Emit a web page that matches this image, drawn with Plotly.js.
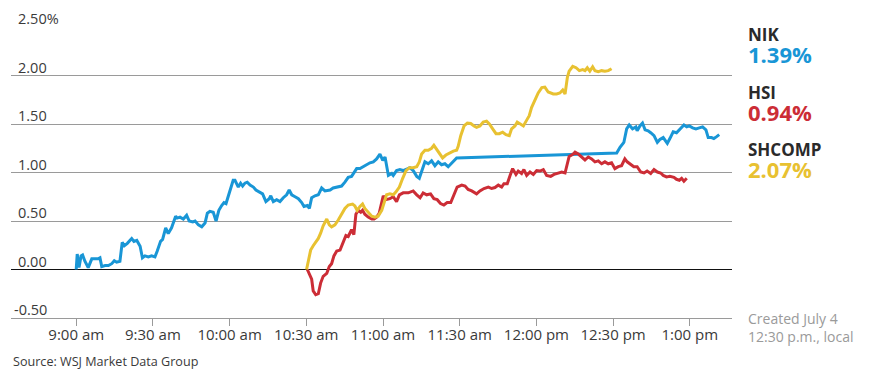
<!DOCTYPE html>
<html>
<head>
<meta charset="utf-8">
<script src="https://cdn.plot.ly/plotly-3.0.1.min.js"></script>
<style>
  html, body { margin: 0; padding: 0; background: #fff; }
  #chart { width: 870px; height: 383px; }
</style>
</head>
<body>
<div id="chart"></div>
<script>
// Minutes after 9:00 am (Tokyo local time) and percent change
const nikMin = [0,0.4,1.1,1.9,2.5,3.4,4.7,6.1,7.4,8.6,9.3,10.0,11.3,12.6,13.9,14.9,15.8,17.1,18.0,18.8,20.0,21.7,22.6,23.7,25.0,25.9,26.9,28.2,29.5,30.8,31.7,33.0,33.8,35.0,36.0,37.3,38.9,39.5,40.6,41.9,43.2,44.2,45.6,46.5,47.8,49.1,50.4,51.3,52.3,53.6,54.7,55.8,56.9,57.8,58.6,59.5,60.4,61.4,62.1,63.4,64.3,65.1,66.0,66.9,68.0,69.3,70.3,71.6,72.9,74.2,75.5,76.1,77.1,78.4,79.7,81.0,82.3,83.3,84.3,85.6,86.9,88.2,89.1,90.4,91.2,92.1,93.4,94.7,96.0,97.3,99.3,100.5,101.9,103.8,105.1,106.4,107.7,109.0,109.7,111.0,112.3,113.6,114.9,116.2,117.5,118.8,119.9,120.8,122.1,123.4,124.0,125.3,126.6,127.9,129.3,130.5,131.8,133.2,134.2,135.1,136.4,137.7,139.0,140.3,141.6,142.9,144.2,145.5,146.9,147.8,148.8,211.4,212.7,214.2,215.3,216.3,217.6,218.9,219.4,220.5,221.5,222.5,223.7,224.7,226.0,227.3,228.3,229.6,231.2,232.2,233.5,234.8,236.1,237.7,238.8,239.8,241.1,242.4,243.7,245.0,246.3,247.2,248.5,249.4,250.5,251.5];
const nikVal = [0,0.16,0.02,0.14,0.15,0.085,0.02,0.11,0.11,0.11,0.12,0.03,0.04,0.04,0.06,0.09,0.075,0.085,0.28,0.245,0.27,0.32,0.29,0.30,0.24,0.12,0.14,0.13,0.14,0.13,0.19,0.29,0.31,0.43,0.37,0.43,0.55,0.53,0.54,0.52,0.56,0.50,0.49,0.50,0.46,0.44,0.48,0.58,0.60,0.59,0.50,0.61,0.66,0.69,0.68,0.75,0.83,0.92,0.92,0.85,0.89,0.86,0.89,0.90,0.87,0.85,0.82,0.80,0.78,0.70,0.73,0.76,0.70,0.72,0.70,0.74,0.77,0.82,0.77,0.75,0.73,0.69,0.65,0.66,0.63,0.74,0.76,0.77,0.84,0.81,0.82,0.84,0.85,0.86,0.90,0.95,0.96,1.005,1.04,1.04,1.06,1.08,1.10,1.11,1.14,1.19,1.125,1.16,0.97,0.99,0.97,1.02,1.03,1.02,1.04,1.05,1.02,0.96,0.94,1.02,1.11,1.09,1.12,1.07,1.11,1.08,1.09,1.06,1.10,1.125,1.15,1.20,1.26,1.31,1.45,1.49,1.45,1.47,1.43,1.48,1.51,1.44,1.43,1.41,1.38,1.31,1.34,1.36,1.30,1.35,1.42,1.41,1.45,1.49,1.47,1.48,1.46,1.45,1.46,1.47,1.44,1.36,1.36,1.35,1.37,1.39];

const hsiMin = [90.4,91.4,92.1,92.7,93.7,94.7,95.6,96.6,98.0,99.0,99.9,100.8,101.9,103.2,104.5,105.5,106.4,107.7,108.6,109.4,110.3,111.3,112.0,112.9,114.2,115.6,116.5,117.5,118.5,119.5,120.1,121.2,122.7,124.0,125.3,126.4,127.9,129.9,131.8,133.2,134.5,135.7,137.1,138.6,139.9,141.2,142.5,143.8,145.1,146.5,147.8,149.0,150.8,152.1,153.3,154.7,156.6,157.9,159.5,161.2,162.5,163.8,165.1,166.4,167.3,168.6,169.7,170.7,172.0,172.9,174.2,175.1,176.2,177.5,178.8,180.1,181.4,182.7,184.0,185.6,186.9,188.5,189.9,191.2,192.1,192.8,194.4,195.1,196.4,197.7,199.0,200.3,201.6,202.9,204.2,205.5,206.8,208.1,209.4,210.7,212.0,213.3,214.6,215.5,216.6,218.1,219.4,220.8,222.1,223.3,224.7,226.0,227.3,228.6,229.6,230.9,232.2,233.8,234.8,235.9,236.8,237.7,238.8];
const hsiVal = [0,-0.05,-0.10,-0.22,-0.26,-0.25,-0.14,-0.07,-0.04,0.03,0.06,0.14,0.19,0.20,0.29,0.35,0.34,0.41,0.36,0.57,0.61,0.59,0.61,0.57,0.54,0.52,0.52,0.54,0.58,0.68,0.76,0.72,0.73,0.75,0.70,0.77,0.79,0.79,0.81,0.77,0.74,0.79,0.77,0.78,0.73,0.72,0.68,0.665,0.69,0.69,0.78,0.85,0.87,0.86,0.825,0.81,0.78,0.81,0.835,0.85,0.835,0.845,0.87,0.85,0.885,0.885,0.97,1.04,0.98,1.015,0.99,1.03,0.97,1.005,0.98,1.02,1.015,1.03,0.97,0.96,0.98,0.995,1.005,0.995,1.09,1.165,1.19,1.21,1.19,1.16,1.13,1.16,1.14,1.11,1.12,1.09,1.11,1.09,1.10,1.04,1.06,1.07,1.14,1.11,1.09,1.06,1.06,1.005,0.995,1.015,0.99,1.03,1.005,0.995,0.97,0.955,0.96,0.95,0.93,0.92,0.94,0.91,0.94];

const shMin = [90.1,91.2,91.7,92.7,93.8,94.7,95.6,96.6,98.0,99.0,99.9,101.2,102.5,103.8,105.1,106.4,108.1,109.0,109.9,111.0,112.0,112.9,114.2,115.6,116.9,118.1,119.5,120.4,121.4,122.7,124.0,125.1,126.4,127.7,129.0,130.3,131.8,133.2,134.2,135.1,136.4,137.7,139.0,139.9,141.0,142.3,143.3,144.6,145.9,147.5,148.8,149.4,150.4,151.7,153.0,154.3,155.6,156.6,157.9,159.2,160.5,161.6,162.9,164.2,165.5,166.8,168.1,169.4,170.3,171.6,172.5,173.6,174.9,176.2,177.2,178.1,179.4,180.7,182.1,183.3,184.6,186.6,187.9,189.2,190.3,191.2,192.1,192.8,194.2,195.5,196.8,198.1,199.0,199.9,200.9,202.0,202.9,204.2,205.5,206.8,208.1,209.4];
const shVal = [0,0.12,0.20,0.245,0.29,0.32,0.375,0.45,0.52,0.46,0.44,0.46,0.51,0.57,0.63,0.665,0.675,0.655,0.61,0.65,0.675,0.63,0.59,0.55,0.54,0.55,0.61,0.70,0.77,0.78,0.77,0.80,0.85,0.94,1.02,1.05,1.05,1.06,1.11,1.19,1.23,1.23,1.25,1.28,1.24,1.19,1.15,1.18,1.20,1.22,1.23,1.27,1.38,1.48,1.51,1.505,1.48,1.465,1.48,1.52,1.53,1.50,1.45,1.40,1.40,1.415,1.39,1.38,1.45,1.48,1.52,1.50,1.48,1.54,1.585,1.67,1.755,1.82,1.875,1.88,1.83,1.81,1.81,1.82,1.85,1.81,1.98,2.045,2.095,2.08,2.05,2.06,2.05,2.08,2.045,2.09,2.05,2.04,2.05,2.045,2.05,2.07];

const xTickVals = [0,30,60,90,120,150,180,210,240];
const xTickText = ['9:00 am','9:30 am','10:00 am','10:30 am','11:00 am','11:30 am','12:00 pm','12:30 pm','1:00 pm'];
const yTickVals = [-0.5,0,0.5,1,1.5,2,2.5];
const yTickText = ['-0.50','0.00','0.50','1.00','1.50','2.00','2.50%'];

const seriesNames = ['NIK','HSI','SHCOMP'];
const seriesLast = ['1.39%','0.94%','2.07%'];
const colors = ['#1996d6','#cc2d36','#e8c131'];

const FONT = 'Open Sans, sans-serif';

const traces = [
  {x: nikMin, y: nikVal, name: 'NIK', type: 'scatter', mode: 'lines', line: {color: colors[0], width: 3}},
  {x: hsiMin, y: hsiVal, name: 'HSI', type: 'scatter', mode: 'lines', line: {color: colors[1], width: 3}},
  {x: shMin, y: shVal, name: 'SHCOMP', type: 'scatter', mode: 'lines', line: {color: colors[2], width: 3}}
];

const annotations = [];
// y tick labels sitting above gridlines
yTickVals.forEach((v, i) => {
  const t = yTickText[i];
  annotations.push({
    xref: 'paper', yref: 'y', x: 0.05, y: v,
    xanchor: 'right', yanchor: 'bottom',
    xshift: t.indexOf('%') >= 0 ? 14 : 2, yshift: -3,
    text: t, showarrow: false,
    font: {family: FONT, size: 14.5, color: '#3a3a3a'}
  });
});
// right-side legend: name over latest value
const legY = [0.933, 0.735, 0.538];
seriesNames.forEach((n, i) => {
  annotations.push({
    xref: 'paper', yref: 'paper', x: 1.0222, y: legY[i], xshift: -2,
    xanchor: 'left', yanchor: 'middle', align: 'left', showarrow: false,
    text: '<b>' + n + '</b><br><span style="font-size:22px;color:' + colors[i] + '"><b>' + seriesLast[i] + '</b></span>',
    font: {family: FONT, size: 17, color: '#2a2a2a'}
  });
});
annotations.push({
  xref: 'paper', yref: 'paper', x: 1.0222, y: -0.031, xshift: -2,
  xanchor: 'left', yanchor: 'middle', align: 'left',
  text: 'Created July 4<br>12:30 p.m., local', showarrow: false,
  font: {family: FONT, size: 14, color: '#9a9a9a'}
});
annotations.push({
  xref: 'paper', yref: 'paper', x: 0.0, y: -0.148,
  xanchor: 'left', yanchor: 'middle', align: 'left',
  text: 'Source: WSJ Market Data Group', showarrow: false,
  font: {family: FONT, size: 12.6, color: '#3a3a3a'}
});

const layout = {
  width: 870, height: 383,
  margin: {l: 11, r: 138, t: 27, b: 65},
  paper_bgcolor: '#fff', plot_bgcolor: '#fff',
  showlegend: false,
  xaxis: {
    range: [-25.5, 256.5], tickmode: 'array', tickvals: xTickVals, ticktext: xTickText,
    showgrid: false, zeroline: false, showline: true, linecolor: '#9a9a9a', linewidth: 1,
    ticks: 'outside', ticklen: 7, tickcolor: '#9a9a9a', tickwidth: 1, ticklabelstandoff: -4,
    tickfont: {family: FONT, size: 15, color: '#3a3a3a'}, fixedrange: true
  },
  yaxis: {
    range: [-0.5, 2.5], tickmode: 'array', tickvals: yTickVals,
    showticklabels: false, showgrid: true, gridcolor: '#9a9a9a', gridwidth: 1,
    zeroline: true, zerolinecolor: '#111', zerolinewidth: 1.5, showline: false, fixedrange: true
  },
  annotations: annotations
};

Plotly.newPlot('chart', traces, layout, {staticPlot: true, displayModeBar: false});
</script>
</body>
</html>
